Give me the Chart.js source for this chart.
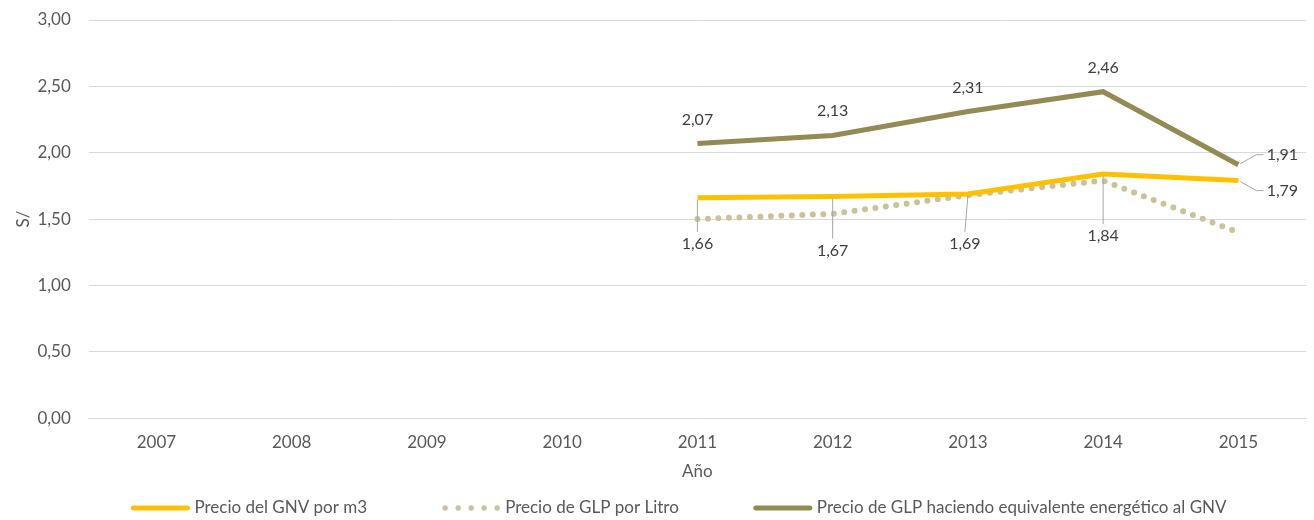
<html lang="es">
<head>
<meta charset="UTF-8">
<title>Precio GNV vs GLP</title>
<script src="https://cdn.jsdelivr.net/npm/chart.js"></script>
<style>
  body { margin: 0; background: #fff; }
</style>
</head>
<body>
<canvas id="chartCanvas" width="1314" height="520"></canvas>
<script>
// data
const years = ['2007', '2008', '2009', '2010', '2011', '2012', '2013', '2014', '2015'];
const gnvPorM3 = [null, null, null, null, 1.66, 1.67, 1.69, 1.84, 1.79];
const glpPorLitro = [null, null, null, null, 1.50, 1.54, 1.68, 1.79, 1.40];
const glpEquivalente = [null, null, null, null, 2.07, 2.13, 2.31, 2.46, 1.91];

const fmt = v => v.toFixed(2).replace('.', ',');
const FONT = 'Lato, "Open Sans", sans-serif';

// where the value labels sit relative to their point: [dx, dy]
// (by position in the non-null run; last point of each series goes to the right)
const labelOffsets = {
    0: [[0, 46], [0, 54], [-3, 50], [0, 62], [44, 10]],
    2: [[0, -24], [0, -25], [0, -24], [0, -24], [44, -10]]
};

const valueLabels = {
    id: 'valueLabels',
    afterDatasetsDraw(chart) {
        const ctx = chart.ctx;
        ctx.save();
        ctx.font = '16px ' + FONT;
        ctx.textAlign = 'center';
        ctx.textBaseline = 'middle';
        [0, 2].forEach(di => {
            const meta = chart.getDatasetMeta(di);
            const data = chart.data.datasets[di].data;
            let k = 0;
            meta.data.forEach((pt, i) => {
                if (data[i] == null) return;
                const isLast = i === data.length - 1;
                const [dx, dy] = labelOffsets[di][k];
                const lx = pt.x + dx, ly = pt.y + dy;
                ctx.strokeStyle = '#A6A6A6';
                ctx.lineWidth = 1;
                if (isLast) {
                    ctx.beginPath();
                    ctx.moveTo(pt.x + 2, pt.y + Math.sign(dy) * 1);
                    ctx.lineTo(lx - 26, ly);
                    ctx.lineTo(lx - 19, ly);
                    ctx.stroke();
                } else if (di === 0) {
                    ctx.beginPath();
                    ctx.moveTo(pt.x, pt.y + 2);
                    ctx.lineTo(lx, ly - 12);
                    ctx.stroke();
                }
                ctx.fillStyle = '#404040';
                ctx.fillText(fmt(data[i]), lx, ly);
                k++;
            });
        });
        ctx.restore();
    }
};

// legend drawn by hand so the dotted sample and the wide gaps match
const bottomLegend = {
    id: 'bottomLegend',
    afterDraw(chart) {
        const ctx = chart.ctx;
        const y = 508;
        const lineW = 58, gap = 5, spacing = 75;
        ctx.save();
        ctx.font = '17px ' + FONT;
        ctx.textBaseline = 'middle';
        const items = chart.data.datasets.map(ds => ({ ds, w: lineW + gap + ctx.measureText(ds.label).width }));
        const total = items.reduce((s, it) => s + it.w, 0) + spacing * (items.length - 1);
        let x = (chart.width + 44) / 2 - total / 2;
        items.forEach(({ ds, w }) => {
            ctx.strokeStyle = ds.borderColor;
            if (ds.borderDash) {
                ctx.fillStyle = ds.borderColor;
                for (let j = 0; j < 5; j++) {
                    ctx.beginPath();
                    ctx.arc(x + 3 + j * 13, y, 2.7, 0, Math.PI * 2);
                    ctx.fill();
                }
            } else {
                ctx.lineWidth = 5;
                ctx.lineCap = 'round';
                ctx.beginPath();
                ctx.moveTo(x + 2, y);
                ctx.lineTo(x + lineW - 2, y);
                ctx.stroke();
            }
            ctx.fillStyle = '#595959';
            ctx.fillText(ds.label, x + lineW + gap, y);
            x += w + spacing;
        });
        ctx.restore();
    }
};

const ctx = document.getElementById('chartCanvas').getContext('2d');
new Chart(ctx, {
    type: 'line',
    data: {
        labels: years,
        datasets: [{
            label: 'Precio del GNV por m3',
            data: gnvPorM3,
            borderColor: '#FFC000',
            borderWidth: 5,
            pointRadius: 0,
            tension: 0
        }, {
            label: 'Precio de GLP por Litro',
            data: glpPorLitro,
            borderColor: '#CCC198',
            borderWidth: 6,
            borderDash: [0, 10.5],
            borderCapStyle: 'round',
            pointRadius: 0,
            tension: 0
        }, {
            label: 'Precio de GLP haciendo equivalente energético al GNV',
            data: glpEquivalente,
            borderColor: '#948A54',
            borderWidth: 5,
            pointRadius: 0,
            tension: 0
        }]
    },
    options: {
        responsive: false,
        animation: false,
        layout: { padding: { top: 20, right: 8, left: 0, bottom: 34 } },
        plugins: {
            legend: { display: false },
            tooltip: { enabled: false }
        },
        scales: {
            x: {
                offset: true,
                grid: { display: false },
                border: { color: '#D9D9D9' },
                ticks: { color: '#595959', font: { family: FONT, size: 17 }, padding: 6 },
                title: { display: true, text: 'Año', color: '#595959', font: { family: FONT, size: 17 }, padding: { top: 3, bottom: 4 } }
            },
            y: {
                min: 0,
                max: 3,
                grid: { color: '#D9D9D9', drawTicks: true, tickLength: 18, tickColor: 'rgba(0,0,0,0)' },
                border: { display: false },
                ticks: {
                    stepSize: 0.5,
                    color: '#595959',
                    font: { family: FONT, size: 17 },
                    padding: 0,
                    callback: v => fmt(v)
                },
                title: { display: true, text: 'S/', color: '#595959', font: { family: FONT, size: 17 }, padding: { top: 13, bottom: 4 } }
            }
        }
    },
    plugins: [valueLabels, bottomLegend]
});
</script>
</body>
</html>
